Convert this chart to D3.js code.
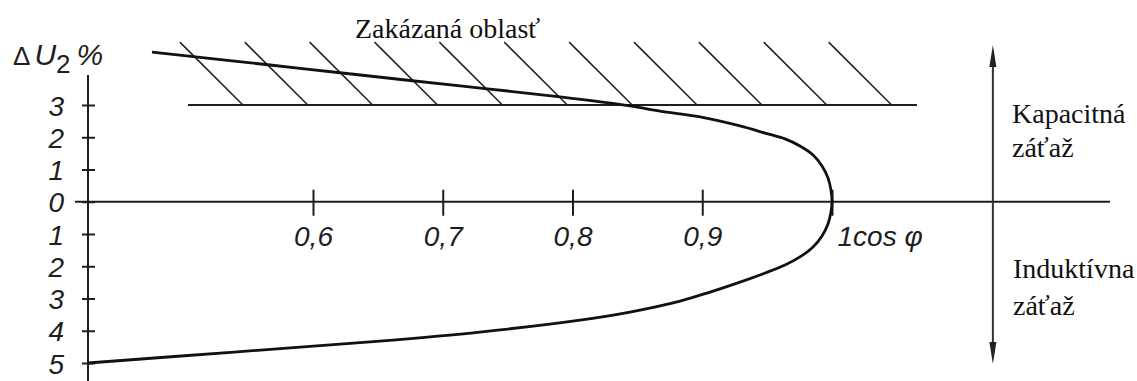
<!DOCTYPE html>
<html>
<head>
<meta charset="utf-8">
<script src="https://cdn.jsdelivr.net/npm/d3@7"></script>
<style>
  body { margin: 0; background: #fff; }
  svg { display: block; }
</style>
</head>
<body>
<div id="chart"></div>
<script>
// data: cos phi vs delta U2 (%)
var upperCos = [0.4759, 0.5129, 0.5669, 0.6208, 0.6748, 0.7326, 0.7904, 0.8443, 0.8674, 0.8983, 0.9291, 0.9484, 0.9638, 0.9753, 0.9854, 0.9923, 0.9969, 0.9992, 1.0];
var upperDU  = [4.64, 4.48, 4.24, 4.00, 3.76, 3.51, 3.25, 2.97, 2.81, 2.63, 2.35, 2.13, 1.95, 1.73, 1.45, 1.11, 0.74, 0.36, 0];
var lowerCos = [0.9992, 0.9969, 0.9923, 0.9854, 0.9753, 0.9638, 0.9484, 0.9291, 0.9060, 0.8829, 0.8443, 0.8058, 0.7287, 0.6516, 0.5391, 0.4266];
var lowerDU  = [-0.32, -0.69, -1.06, -1.40, -1.71, -1.96, -2.21, -2.49, -2.80, -3.08, -3.42, -3.67, -4.04, -4.32, -4.66, -5.0];

var xTicks = [0.6, 0.7, 0.8, 0.9, 1.0];
var xTickLabels = ["0,6", "0,7", "0,8", "0,9", "1cos \u03C6"];
var yTicks = [3, 2, 1, 0, -1, -2, -3, -4, -5];
var yTickLabels = ["3", "2", "1", "0", "1", "2", "3", "4", "5"];

// forbidden zone: limit line and hatch bottoms (cos phi)
var limitDU = 3;
var limitFrom = 0.5037, limitTo = 1.0655;
var hatchBottoms = [0.546, 0.596, 0.646, 0.696, 0.746, 0.796, 0.846, 0.896, 0.946, 0.996, 1.046];
var hatchTopDU = 4.95;
var hatchShift = 0.0486;

var arrowCos = 1.124;

var W = 1137, H = 381;
var svg = d3.select("#chart").append("svg").attr("width", W).attr("height", H);

var x = d3.scaleLinear().domain([0.6, 1.0]).range([313, 832]);
var y = d3.scaleLinear().domain([-5, 3]).range([363, 105]);

var axisX = 88; // pixel position of the vertical axis
var ink = "#1e1e1e";
var numFont = "'Liberation Sans', Arial, sans-serif";
var serif = "'Liberation Serif', 'Times New Roman', serif";

// x axis line
svg.append("line")
  .attr("x1", 75).attr("x2", 1110)
  .attr("y1", y(0)).attr("y2", y(0))
  .attr("stroke", ink).attr("stroke-width", 2);

// y axis line
svg.append("line")
  .attr("x1", axisX).attr("x2", axisX)
  .attr("y1", 75).attr("y2", H)
  .attr("stroke", ink).attr("stroke-width", 2);

// x ticks
var xAxis = svg.append("g")
  .attr("transform", "translate(0," + y(0) + ")")
  .call(d3.axisBottom(x).tickValues(xTicks).tickSize(14)
    .tickFormat(function (d, i) { return xTickLabels[i]; }));
xAxis.select(".domain").remove();
xAxis.selectAll(".tick line")
  .attr("y1", -12).attr("y2", 14)
  .attr("stroke", ink).attr("stroke-width", 2);
xAxis.selectAll(".tick text")
  .attr("y", 44).attr("dy", null)
  .attr("fill", ink)
  .attr("font-size", 28)
  .attr("font-style", "italic")
  .attr("font-family", numFont);
xAxis.selectAll(".tick text")
  .filter(function (d) { return d === 1.0; })
  .attr("text-anchor", "start")
  .attr("x", 5);

// y ticks
var yAxis = svg.append("g")
  .attr("transform", "translate(" + axisX + ",0)")
  .call(d3.axisLeft(y).tickValues(yTicks).tickSize(6)
    .tickFormat(function (d, i) { return yTickLabels[i]; }));
yAxis.select(".domain").remove();
yAxis.selectAll(".tick line")
  .attr("x1", 7).attr("x2", -6)
  .attr("stroke", ink).attr("stroke-width", 2);
yAxis.selectAll(".tick text")
  .attr("x", -24).attr("dy", "0.36em")
  .attr("fill", ink)
  .attr("font-size", 28)
  .attr("font-style", "italic")
  .attr("font-family", numFont);

// y axis title: delta U2 %
var yt = svg.append("text")
  .attr("x", 13).attr("y", 65)
  .attr("fill", ink)
  .attr("font-family", numFont)
  .attr("font-size", 30);
yt.append("tspan").attr("font-size", 26).text("\u0394");
yt.append("tspan").attr("dx", 4).attr("font-style", "italic").text("U");
yt.append("tspan").attr("dy", 8).attr("font-size", 26).text("2");
yt.append("tspan").attr("dy", -8).attr("dx", 6).attr("font-style", "italic").text("%");

// forbidden zone limit line
svg.append("line")
  .attr("x1", x(limitFrom)).attr("x2", x(limitTo))
  .attr("y1", y(limitDU)).attr("y2", y(limitDU))
  .attr("stroke", ink).attr("stroke-width", 2);

// hatching
svg.selectAll(".hatch")
  .data(hatchBottoms)
  .enter()
  .append("line")
  .attr("class", "hatch")
  .attr("x1", function (d) { return x(d - hatchShift); })
  .attr("y1", y(hatchTopDU))
  .attr("x2", function (d) { return x(d); })
  .attr("y2", y(limitDU))
  .attr("stroke", ink).attr("stroke-width", 1.5);

svg.append("text")
  .attr("x", 355).attr("y", 38)
  .attr("fill", "#111")
  .attr("font-family", serif)
  .attr("font-size", 28)
  .text("Zakázaná oblasť");

// regulation curve
var pts = upperCos.map(function (c, i) { return [c, upperDU[i]]; })
  .concat(lowerCos.map(function (c, i) { return [c, lowerDU[i]]; }));
var line = d3.line()
  .x(function (d) { return x(d[0]); })
  .y(function (d) { return y(d[1]); })
  .curve(d3.curveCatmullRom.alpha(0.5));
svg.append("path")
  .datum(pts)
  .attr("d", line)
  .attr("fill", "none")
  .attr("stroke", "#111")
  .attr("stroke-width", 2.8);

// double arrow on the right
var ax = x(arrowCos);
svg.append("line")
  .attr("x1", ax).attr("x2", ax)
  .attr("y1", 55).attr("y2", 355)
  .attr("stroke", "#333").attr("stroke-width", 2);
svg.append("path")
  .attr("d", "M" + ax + ",45 L" + (ax - 3.5) + ",67 L" + (ax + 3.5) + ",67 Z")
  .attr("fill", "#222");
svg.append("path")
  .attr("d", "M" + ax + ",364 L" + (ax - 3.5) + ",342 L" + (ax + 3.5) + ",342 Z")
  .attr("fill", "#222");

var sideLabels = [
  { t: "Kapacitná", x: 1012, y: 123 },
  { t: "záťaž", x: 1012, y: 157 },
  { t: "Induktívna", x: 1013, y: 278 },
  { t: "záťaž", x: 1013, y: 315 }
];
svg.selectAll(".side")
  .data(sideLabels)
  .enter()
  .append("text")
  .attr("class", "side")
  .attr("x", function (d) { return d.x; })
  .attr("y", function (d) { return d.y; })
  .attr("fill", "#111")
  .attr("font-family", serif)
  .attr("font-size", 28)
  .text(function (d) { return d.t; });
</script>
</body>
</html>
